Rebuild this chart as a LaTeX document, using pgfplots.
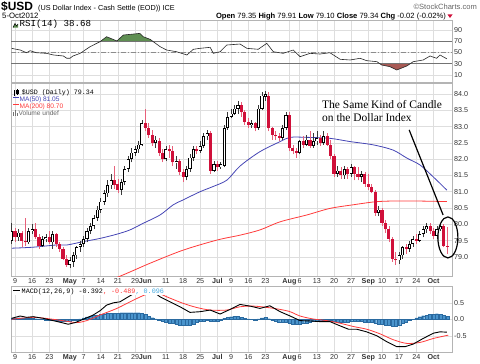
\documentclass[border=0pt]{standalone}
\usepackage{pgfplots}
\pgfplotsset{compat=1.18}
\usepackage{pgfplotstable}
\usepackage{fontspec}
\setmainfont{Liberation Sans}
\newfontfamily\monof{Liberation Mono}
\newfontfamily\serifa{Liberation Serif}
\definecolor{gridc}{HTML}{DEDEDE}
\definecolor{bordc}{HTML}{B4B4B4}
\definecolor{candred}{HTML}{D0103A}
\definecolor{wickred}{HTML}{E8607A}
\definecolor{wickblk}{HTML}{3A3A3A}
\definecolor{ma50}{HTML}{4444B4}
\definecolor{ma200}{HTML}{FF3B3B}
\definecolor{rsigreen}{HTML}{5F8F52}
\definecolor{rsired}{HTML}{A85A55}
\definecolor{histb}{HTML}{4A94CC}
\definecolor{histd}{HTML}{2A6AA0}
\definecolor{lblue}{HTML}{40A8E0}
\definecolor{txtg}{HTML}{333333}

\pgfplotstableread{
d O H L C
-1 79.50 80.05 79.40 79.80
1 79.60 79.85 79.50 79.75
4 79.45 79.90 79.40 79.80
5 79.80 80.00 79.70 79.85
8 79.35 79.65 79.30 79.55
9 79.55 79.70 79.45 79.60
11 79.45 79.80 79.25 79.70
16 78.75 79.00 78.65 78.90
17 78.85 79.15 78.70 79.05
18 79.05 79.35 78.95 79.30
19 79.30 79.50 79.15 79.40
20 79.40 79.65 79.30 79.55
21 79.55 79.90 79.45 79.80
22 79.80 80.05 79.70 79.95
23 79.95 80.30 79.85 80.20
24 80.20 80.55 80.10 80.45
25 80.45 80.80 80.35 80.70
26 80.70 81.05 80.60 80.95
27 80.95 81.35 80.85 81.20
28 81.20 81.55 81.10 81.35
31 81.05 81.40 80.90 81.30
32 81.30 81.80 81.20 81.70
33 81.70 82.10 81.60 82.00
34 82.00 82.35 81.90 82.20
35 82.20 82.40 82.10 82.30
36 82.30 82.55 82.20 82.45
37 82.45 83.20 82.40 83.10
41 82.50 82.70 82.35 82.60
44 82.00 82.40 81.95 82.30
47 81.90 82.10 81.70 81.95
50 81.45 81.80 81.35 81.70
51 81.70 82.15 81.60 82.05
52 82.05 82.40 81.95 82.30
54 82.25 82.55 82.20 82.40
55 82.40 82.80 82.35 82.70
56 82.70 82.90 82.60 82.80
58 81.65 81.95 81.60 81.85
60 81.75 81.90 81.70 81.85
61 81.80 83.05 81.75 82.95
62 82.95 83.45 82.90 83.30
63 83.30 83.55 83.25 83.40
64 83.40 83.65 83.35 83.55
65 83.55 83.80 83.40 83.65
69 83.05 83.20 82.95 83.10
71 82.95 83.65 82.90 83.55
72 83.55 84.05 83.50 83.95
73 83.90 84.10 83.80 84.00
78 82.65 83.05 82.60 82.95
79 82.95 83.45 82.90 83.35
83 82.20 82.60 82.15 82.55
85 82.45 82.75 82.40 82.60
87 82.40 82.80 82.35 82.55
88 82.55 82.85 82.45 82.65
90 82.50 82.85 82.45 82.70
94 81.55 81.80 81.45 81.65
96 81.50 81.80 81.40 81.70
98 81.55 81.85 81.45 81.75
101 81.45 81.65 81.30 81.55
106 80.35 80.55 80.25 80.45
112 78.90 79.15 78.80 79.05
113 79.05 79.35 78.95 79.30
115 79.25 79.50 79.15 79.40
116 79.40 79.65 79.30 79.55
118 79.50 79.80 79.45 79.70
119 79.70 79.95 79.60 79.85
120 79.85 80.05 79.75 79.95
123 79.65 79.95 79.55 79.85
124 79.85 80.05 79.80 79.95
}\upc

\pgfplotstableread{
d O H L C
0 79.80 79.90 79.45 79.60
2 79.75 79.80 79.30 79.50
3 79.50 80.20 79.35 79.45
6 79.85 80.05 79.55 79.60
7 79.60 79.70 79.25 79.35
10 79.60 79.80 79.40 79.45
12 79.70 79.75 79.30 79.40
13 79.40 79.45 79.15 79.25
14 79.25 79.30 78.90 78.95
15 78.95 79.05 78.70 78.75
29 81.35 81.80 81.10 81.20
30 81.25 81.40 80.95 81.05
38 83.10 83.55 82.85 82.95
39 82.95 83.10 82.65 82.75
40 82.75 82.90 82.40 82.50
42 82.55 82.65 82.10 82.20
43 82.20 82.30 81.90 82.00
45 82.30 82.45 82.05 82.25
46 82.25 82.40 81.80 81.90
48 81.95 82.00 81.50 81.60
49 81.60 81.70 81.30 81.45
53 82.30 82.40 82.15 82.25
57 82.80 82.85 81.55 81.65
59 81.85 81.95 81.65 81.75
66 83.65 83.75 83.30 83.45
67 83.45 83.50 83.05 83.15
68 83.15 83.25 82.95 83.05
70 83.10 83.15 82.85 82.95
74 83.95 84.05 82.85 82.95
75 82.95 83.00 82.60 82.75
76 82.75 82.85 82.60 82.70
77 82.70 82.80 82.55 82.65
80 83.35 83.45 82.25 82.35
81 82.35 82.45 82.15 82.25
82 82.25 82.35 82.05 82.20
84 82.55 82.70 82.35 82.45
86 82.60 82.85 82.35 82.40
89 82.65 82.75 82.40 82.50
91 82.70 82.80 82.40 82.45
92 82.45 82.60 82.00 82.10
93 82.10 82.15 81.45 81.55
95 81.65 81.75 81.40 81.50
97 81.70 81.75 81.40 81.55
99 81.75 81.80 81.35 81.55
100 81.55 81.75 81.35 81.45
102 81.55 81.60 81.15 81.25
103 81.25 81.55 81.05 81.15
104 81.15 81.25 80.95 81.00
105 81.00 81.05 80.25 80.35
107 80.45 80.50 79.95 80.05
108 80.05 80.15 79.75 79.85
109 79.85 79.95 79.45 79.55
110 79.55 79.60 78.85 78.95
111 78.95 79.15 78.75 78.90
114 79.30 79.40 79.10 79.25
117 79.55 79.70 79.40 79.50
121 79.95 80.05 79.70 79.80
122 79.80 79.90 79.55 79.65
125 79.95 80.00 79.30 79.35
126 79.35 79.91 79.10 79.34
}\dnc

\pgfplotsset{
 panel/.style={scale only axis, width=441bp, xmin=-1.17, xmax=127.4,
   axis line style={bordc, line width=0.6bp},
   major tick length=0pt, tick style={draw=none},
   grid=major, grid style={gridc, line width=0.6bp},
   yticklabel pos=right,
   ticklabel style={font=\fontsize{7.2}{8}\selectfont, text=txtg, inner sep=2bp},
   /pgf/number format/assume math mode=true,
   xtick={0,5,10,16,20,25,30,35,38,44,49,54,59,63,68,73,80,83,88,93,98,103,107,112,117,122},
   clip mode=individual},
 datelabels/.style={xticklabels={9,16,23,\textbf{May},7,14,21,29,\textbf{Jun},11,18,25,\textbf{Jul},9,16,23,\textbf{Aug},6,13,20,27,\textbf{Sep},10,17,24,\textbf{Oct}}},
}

\begin{document}
\begin{tikzpicture}[x=1bp,y=1bp]

% ---------------- RSI panel
\begin{axis}[panel, at={(11bp,281bp)}, anchor=south west, height=62bp,
  ymin=-2.44, ymax=107.8, ytick={10,30,50,70,90}, xticklabels={}]
\addplot[fill=rsigreen, draw=none] coordinates {(24.95,70)(26.7,78.1)(29.7,70.5)(31.6,81.1)(34,82.5)(36.4,84)(37.4,78)(39.4,73.4)(40.15,70)};
\addplot[fill=rsired, draw=none] coordinates {(106.38,30)(106.9,27.8)(109.3,24.8)(111.3,18.9)(114.2,26)(115.19,30)};
\draw[black!55, line width=0.8bp] (axis cs:-1.17,70) -- (axis cs:127.4,70);
\draw[black!55, line width=0.8bp] (axis cs:-1.17,30) -- (axis cs:127.4,30);
\draw[black!45, line width=0.7bp, dash pattern=on 5bp off 2bp on 1bp off 2bp] (axis cs:-1.17,50) -- (axis cs:127.4,50);
\addplot[black!85, line width=0.6bp] coordinates {(-1,57.4)(1.5,54.4)(3.4,49.6)(4.4,53.2)(6.3,49.6)(9.2,48.5)(11.2,45.6)(14.1,43.8)(15.1,39.7)(16,39.7)(16.9,43.8)(19,48.5)(21.9,60.4)(24.8,69.3)(26.7,78.1)(29.7,70.5)(31.6,81.1)(34,82.5)(36.4,84)(37.4,78)(39.4,73.4)(40.3,69.3)(42.3,60.4)(44.2,54.4)(47.1,51.4)(50.1,45.6)(52,55.7)(53.9,57.4)(56.9,59.2)(57.8,48.5)(59.8,51.4)(61.7,63.3)(65.6,65.1)(67.6,57.4)(70.9,55.7)(73.4,66.3)(75.3,51.4)(78.2,48.5)(81.1,54.4)(83.1,42.6)(86,48.5)(88.9,47.3)(91.8,49.6)(94.8,37.9)(97.7,36.7)(100.6,39.7)(102.5,35.5)(105.5,33.7)(106.9,27.8)(109.3,24.8)(111.3,18.9)(114.2,26)(116.1,33.7)(119,36.7)(121,43.8)(122.9,39.7)(123.9,45.6)(125.9,38.7)};
\end{axis}

% ---------------- Price panel
\begin{axis}[panel, datelabels, at={(11bp,87bp)}, anchor=south west, height=193bp,
  ymin=78.417, ymax=84.337, ytick={79,79.5,...,84.1},
  yticklabel style={/pgf/number format/fixed, /pgf/number format/fixed zerofill, /pgf/number format/precision=1}]
\addplot[ma200, line width=0.8bp, smooth] coordinates {(22,78.05)(31.5,78.45)(39.4,78.81)(49,79.21)(58.9,79.52)(65.6,79.67)(71.4,79.83)(77.3,80.08)(85.1,80.29)(91.8,80.49)(98.5,80.60)(105.8,80.70)(114.3,80.72)(125.9,80.70)};
\addplot[ma50, line width=0.8bp, smooth] coordinates {(-0.9,79.27)(5.2,79.30)(12.2,79.37)(15.2,79.37)(19.8,79.47)(24.8,79.57)(29.7,79.70)(33.5,79.83)(37.3,80.03)(42.3,80.29)(46.1,80.60)(49,80.75)(53.9,81.00)(57.7,81.16)(61.8,81.36)(65.6,81.79)(71.4,82.23)(77.3,82.54)(80.2,82.67)(85.1,82.67)(91.8,82.64)(97.7,82.54)(104.4,82.44)(110.2,82.28)(114.3,82.03)(118.1,81.82)(121.9,81.46)(125.9,81.05)};
\addplot[draw=none, mark=none, forget plot, error bars/.cd, y dir=plus, y explicit, error mark=none,
  error bar style={draw=wickblk, solid, line width=0.7bp}]
  table[x=d, y=L, y error plus expr=\thisrow{H}-\thisrow{L}] {\upc};
\addplot[draw=none, mark=none, forget plot, error bars/.cd, y dir=plus, y explicit, error mark=none,
  error bar style={draw=wickred, solid, line width=0.7bp}]
  table[x=d, y=L, y error plus expr=\thisrow{H}-\thisrow{L}] {\dnc};
\addplot[draw=none, mark=none, forget plot, error bars/.cd, y dir=plus, y explicit, error mark=none,
  error bar style={draw=black, solid, line width=3.1bp}]
  table[x=d, y=O, y error plus expr=\thisrow{C}-\thisrow{O}] {\upc};
\addplot[draw=none, mark=none, forget plot, error bars/.cd, y dir=plus, y explicit, error mark=none,
  error bar style={draw=white, solid, line width=1.5bp, shorten <=0.75bp, shorten >=0.75bp}]
  table[x=d, y=O, y error plus expr=\thisrow{C}-\thisrow{O}] {\upc};
\addplot[draw=none, mark=none, forget plot, error bars/.cd, y dir=plus, y explicit, error mark=none,
  error bar style={draw=candred, solid, line width=3.1bp}]
  table[x=d, y=C, y error plus expr=\thisrow{O}-\thisrow{C}] {\dnc};
\draw[black, line width=1.2bp] (axis cs:114.9,82.9) -- (axis cs:124.8,80.29);
\draw[black, line width=1.2bp] (axis cs:126.2,79.6) ellipse [x radius=10bp, y radius=20.5bp];
\end{axis}

% ---------------- MACD panel
\begin{axis}[panel, datelabels, at={(11bp,11bp)}, anchor=south west, height=66bp,
  ymin=-0.991, ymax=1.009, ytick={-0.5,0,0.5},
  yticklabel style={/pgf/number format/fixed, /pgf/number format/fixed zerofill, /pgf/number format/precision=1}]
\addplot[ybar, bar width=0.9, fill=histb, draw=histd, line width=0.25bp] coordinates {
(-1,0.03)(0,0.04)(1,0.05)(2,0.04)(3,0.03)(4,0.03)(5,0.03)(6,0.02)(7,0.01)(8,0.005)(9,-0.01)
(10,-0.02)(11,-0.03)(12,-0.04)(13,-0.05)(14,-0.06)(15,-0.07)(16,-0.06)(17,-0.04)(18,-0.02)(19,0.01)
(20,0.04)(21,0.07)(22,0.10)(23,0.12)(24,0.13)(25,0.15)(26,0.17)(27,0.18)(28,0.19)(29,0.19)
(30,0.19)(31,0.20)(32,0.20)(33,0.20)(34,0.20)(35,0.20)(36,0.20)(37,0.19)(38,0.15)(39,0.10)
(40,0.05)(41,0.01)(42,-0.03)(43,-0.06)(44,-0.08)(45,-0.11)(46,-0.13)(47,-0.15)(48,-0.17)(49,-0.18)
(50,-0.19)(51,-0.17)(52,-0.14)(53,-0.10)(54,-0.07)(55,-0.05)(56,-0.03)(57,-0.06)(58,-0.07)(59,-0.05)
(60,-0.02)(61,0.03)(62,0.06)(63,0.08)(64,0.09)(65,0.09)(66,0.06)(67,0.03)(68,0.01)(69,0.005)
(70,-0.02)(71,0.01)(72,0.04)(73,0.06)(74,0.02)(75,-0.03)(76,-0.06)(77,-0.08)(78,-0.09)(79,-0.10)
(80,-0.12)(81,-0.14)(82,-0.14)(83,-0.14)(84,-0.13)(85,-0.11)(86,-0.09)(87,-0.07)(88,-0.06)(89,-0.05)
(90,-0.04)(91,-0.03)(92,-0.04)(93,-0.06)(94,-0.08)(95,-0.08)(96,-0.08)(97,-0.08)(98,-0.07)(99,-0.06)
(100,-0.06)(101,-0.07)(102,-0.08)(103,-0.09)(104,-0.10)(105,-0.12)(106,-0.14)(107,-0.16)(108,-0.18)(109,-0.19)
(110,-0.20)(111,-0.20)(112,-0.17)(113,-0.12)(114,-0.08)(115,-0.04)(116,0.005)(117,0.04)(118,0.08)(119,0.11)
(120,0.13)(121,0.15)(122,0.16)(123,0.17)(124,0.15)(125,0.12)(126,0.10)};
\addplot[ma200, line width=0.8bp, smooth] coordinates {(-1,0.0)(5.3,0.06)(11.1,0.0)(15.1,-0.06)(18,-0.10)(20.9,-0.04)(24.8,0.13)(29.7,0.33)(34.5,0.58)(38.4,0.76)(41.3,0.80)(45.2,0.64)(49.1,0.48)(52.9,0.36)(56.9,0.28)(61.7,0.28)(65.6,0.38)(69.5,0.40)(73.4,0.36)(77.3,0.30)(80.2,0.23)(83.1,0.10)(86.9,0.01)(90.9,-0.04)(94.8,-0.12)(98.7,-0.22)(102.5,-0.30)(106.4,-0.44)(110.3,-0.62)(114.2,-0.73)(118.1,-0.70)(122,-0.58)(126.3,-0.48)};
\addplot[black, line width=0.9bp] coordinates {(-1,0.03)(1.5,0.10)(3.4,0.06)(5.3,0.08)(8.2,0.03)(11.1,-0.04)(13.6,-0.10)(15.5,-0.15)(17.5,-0.10)(19.9,0.0)(22.8,0.13)(24.8,0.26)(26.7,0.43)(28.7,0.50)(30.6,0.53)(33,0.68)(34.5,0.77)(36.5,0.86)(38.5,0.85)(41.4,0.75)(42.3,0.68)(45.2,0.53)(48.1,0.38)(51,0.21)(53.9,0.23)(56.9,0.28)(59.8,0.16)(62.7,0.30)(65.6,0.45)(68.5,0.40)(71.4,0.33)(74.3,0.41)(77.3,0.23)(80.2,0.10)(83.1,-0.04)(86,-0.05)(88.9,-0.07)(91.8,-0.07)(94.8,-0.20)(97.2,-0.30)(99.6,-0.30)(102.5,-0.38)(105.5,-0.50)(108.4,-0.68)(111.3,-0.83)(113.7,-0.83)(116.1,-0.75)(119,-0.58)(122,-0.42)(123.9,-0.38)(125.9,-0.39)};
\end{axis}

% ---------------- header texts
\node[anchor=base west, inner sep=0, font=\fontsize{12}{12}\selectfont\bfseries] at (1,352.3) {\$USD};
\node[anchor=base west, inner sep=0, font=\fontsize{7.3}{8}\selectfont] at (38,352.5) {(US Dollar Index - Cash Settle (EOD)) ICE};
\node[anchor=base west, inner sep=0, font=\fontsize{7.8}{8}\selectfont] at (2,345) {5-Oct2012};
\node[anchor=base east, inner sep=0, font=\fontsize{7.6}{8}\selectfont, text=black!60] at (477,353.7) {©StockCharts.com};
\node[anchor=base east, inner sep=0, font=\fontsize{7.6}{8}\selectfont] at (446,344.7) {\textbf{Open} 79.35 \textbf{High} 79.91 \textbf{Low} 79.10 \textbf{Close} 79.34 \textbf{Chg} -0.02 (-0.02\%)};
\fill[candred] (447.5,348.5) -- (452.5,348.5) -- (450,345) -- cycle;

% RSI legend
\fill[rsigreen] (13,335.5) -- (15,339.5) -- (16.5,337) -- (18,339) -- (18,335.5) -- cycle;
\draw[black, line width=0.5bp] (13,335.5) -- (15,339.5) -- (16.5,337) -- (18,339);
\node[anchor=base west, inner sep=0, font=\monof\fontsize{9.2}{10}\selectfont] at (19.5,336.3) {RSI(14) 38.68};

% Price legend
\draw[black, line width=0.6bp] (14.5,267) -- (14.5,273); \fill[black] (13.6,268.5) rectangle (15.4,271.5);
\draw[black, line width=0.6bp] (17.5,268) -- (17.5,274); \draw[black, line width=0.5bp] (16.6,269.5) rectangle (18.4,272.5);
\node[anchor=base west, inner sep=0, font=\monof\fontsize{6.7}{7}\selectfont] at (21.7,269) {\$USD (Daily) 79.34};
\draw[ma50, line width=1.2bp] (13,265.8) -- (19,265.8);
\node[anchor=base west, inner sep=0, font=\fontsize{6.6}{7}\selectfont, text=ma50] at (19.5,262) {MA(50) 81.05};
\draw[ma200, line width=1.2bp] (13,258.5) -- (19,258.5);
\node[anchor=base west, inner sep=0, font=\fontsize{6.6}{7}\selectfont, text=ma200] at (19.5,254.5) {MA(200) 80.70};
\fill[black!55] (13,247.5) rectangle (14.2,251.5); \fill[black!55] (14.8,247.5) rectangle (16,253); \fill[black!55] (16.6,247.5) rectangle (17.8,250.5);
\node[anchor=base west, inner sep=0, font=\fontsize{6.6}{7}\selectfont, text=black!60] at (18.5,247.5) {Volume undef};

% MACD legend (white backing like the original)
\fill[white] (12,68.3) rectangle (166.5,76.3);
\draw[black, line width=1.2bp] (13,72.5) -- (20,72.5);
\node[anchor=base west, inner sep=0, font=\monof\fontsize{6.8}{7}\selectfont] at (21.5,69.5) {MACD(12,26,9) -0.392\textcolor{ma200}{, -0.489}\textcolor{lblue}{, 0.096}};

% Annotation text
\node[anchor=base west, inner sep=0, font=\serifa\fontsize{11.5}{12}\selectfont] at (322,254.7) {The Same Kind of Candle};
\node[anchor=base west, inner sep=0, font=\serifa\fontsize{11.5}{12}\selectfont] at (322,241.3) {on the Dollar Index};

\pgfresetboundingbox
\useasboundingbox (0,0) rectangle (480,363);
\end{tikzpicture}
\end{document}
